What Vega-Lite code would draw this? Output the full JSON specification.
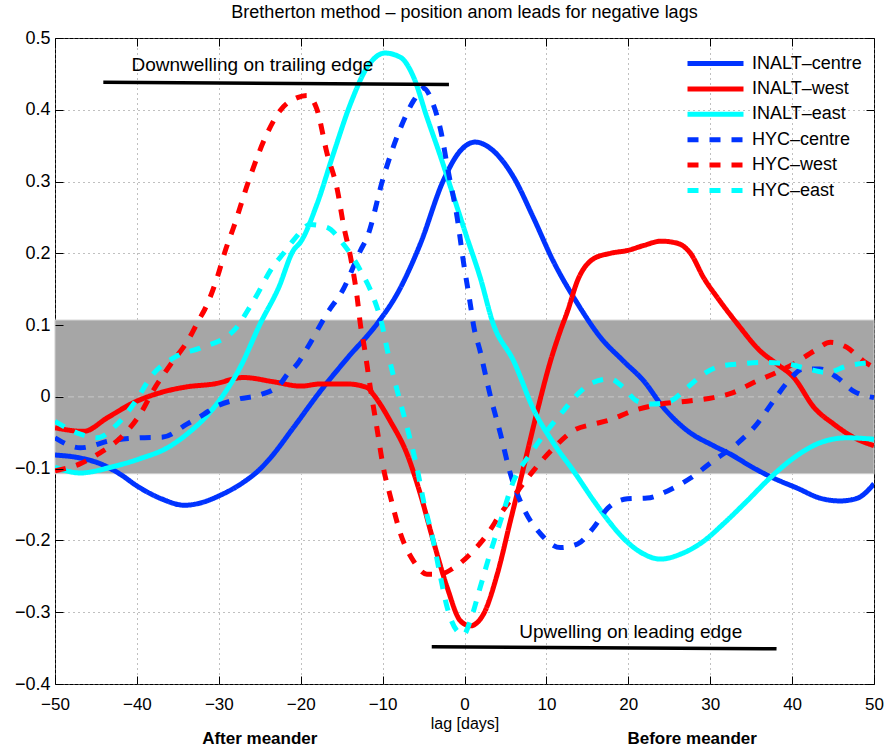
{
  "$schema": "https://vega.github.io/schema/vega-lite/v6.json",
  "width": 819,
  "height": 646,
  "autosize": {"type": "none"},
  "padding": {"left": 55, "top": 38, "right": 17, "bottom": 64},
  "background": "white",
  "title": {"text": "Bretherton method – position anom leads for negative lags", "fontSize": 18, "font": "Liberation Sans", "fontWeight": "normal", "color": "black", "offset": 7},
  "config": {
    "view": {"stroke": "black", "strokeWidth": 1},
    "font": "Liberation Sans",
    "axis": {
      "domain": false,
      "labelColor": "black",
      "tickColor": "black",
      "labelFont": "Liberation Sans",
      "titleFont": "Liberation Sans",
      "titleColor": "black",
      "titleFontWeight": "normal",
      "labelFlush": false
    }
  },
  "datasets": {
    "curves": [
      {"series": "INALT–centre", "lag": -50, "value": -0.081},
      {"series": "INALT–centre", "lag": -47, "value": -0.085},
      {"series": "INALT–centre", "lag": -44.5, "value": -0.093},
      {"series": "INALT–centre", "lag": -42, "value": -0.108},
      {"series": "INALT–centre", "lag": -40, "value": -0.124},
      {"series": "INALT–centre", "lag": -37, "value": -0.142},
      {"series": "INALT–centre", "lag": -34.2, "value": -0.151},
      {"series": "INALT–centre", "lag": -32, "value": -0.147},
      {"series": "INALT–centre", "lag": -30, "value": -0.138},
      {"series": "INALT–centre", "lag": -27, "value": -0.119},
      {"series": "INALT–centre", "lag": -25, "value": -0.101},
      {"series": "INALT–centre", "lag": -23.7, "value": -0.085},
      {"series": "INALT–centre", "lag": -20.9, "value": -0.043},
      {"series": "INALT–centre", "lag": -17.6, "value": 0.008},
      {"series": "INALT–centre", "lag": -14.3, "value": 0.054},
      {"series": "INALT–centre", "lag": -10.6, "value": 0.103},
      {"series": "INALT–centre", "lag": -8.2, "value": 0.144},
      {"series": "INALT–centre", "lag": -5.4, "value": 0.213},
      {"series": "INALT–centre", "lag": -2.6, "value": 0.301},
      {"series": "INALT–centre", "lag": -0.5, "value": 0.343},
      {"series": "INALT–centre", "lag": 1.3, "value": 0.355},
      {"series": "INALT–centre", "lag": 3.5, "value": 0.343},
      {"series": "INALT–centre", "lag": 6.0, "value": 0.306},
      {"series": "INALT–centre", "lag": 8.4, "value": 0.25},
      {"series": "INALT–centre", "lag": 10.8, "value": 0.19},
      {"series": "INALT–centre", "lag": 13.8, "value": 0.13},
      {"series": "INALT–centre", "lag": 16.6, "value": 0.083},
      {"series": "INALT–centre", "lag": 19.4, "value": 0.05},
      {"series": "INALT–centre", "lag": 21.9, "value": 0.022},
      {"series": "INALT–centre", "lag": 24.3, "value": -0.015},
      {"series": "INALT–centre", "lag": 27.2, "value": -0.047},
      {"series": "INALT–centre", "lag": 30.4, "value": -0.068},
      {"series": "INALT–centre", "lag": 32.5, "value": -0.08},
      {"series": "INALT–centre", "lag": 35.3, "value": -0.099},
      {"series": "INALT–centre", "lag": 37.7, "value": -0.113},
      {"series": "INALT–centre", "lag": 40.6, "value": -0.127},
      {"series": "INALT–centre", "lag": 43.4, "value": -0.141},
      {"series": "INALT–centre", "lag": 45.9, "value": -0.145},
      {"series": "INALT–centre", "lag": 48, "value": -0.141},
      {"series": "INALT–centre", "lag": 50, "value": -0.121},

      {"series": "INALT–west", "lag": -50, "value": -0.043},
      {"series": "INALT–west", "lag": -46.5, "value": -0.048},
      {"series": "INALT–west", "lag": -43.6, "value": -0.029},
      {"series": "INALT–west", "lag": -40.4, "value": -0.008},
      {"series": "INALT–west", "lag": -37.1, "value": 0.006},
      {"series": "INALT–west", "lag": -33.9, "value": 0.014},
      {"series": "INALT–west", "lag": -30.6, "value": 0.018},
      {"series": "INALT–west", "lag": -27, "value": 0.027},
      {"series": "INALT–west", "lag": -23.3, "value": 0.021},
      {"series": "INALT–west", "lag": -20, "value": 0.015},
      {"series": "INALT–west", "lag": -17.6, "value": 0.018},
      {"series": "INALT–west", "lag": -14.3, "value": 0.018},
      {"series": "INALT–west", "lag": -11.9, "value": 0.013},
      {"series": "INALT–west", "lag": -11.1, "value": 0.003},
      {"series": "INALT–west", "lag": -10.3, "value": -0.01},
      {"series": "INALT–west", "lag": -9.1, "value": -0.033},
      {"series": "INALT–west", "lag": -7, "value": -0.08},
      {"series": "INALT–west", "lag": -5.4, "value": -0.135},
      {"series": "INALT–west", "lag": -3.8, "value": -0.201},
      {"series": "INALT–west", "lag": -2.1, "value": -0.266},
      {"series": "INALT–west", "lag": -0.5, "value": -0.312},
      {"series": "INALT–west", "lag": 0.7, "value": -0.319},
      {"series": "INALT–west", "lag": 2.3, "value": -0.303},
      {"series": "INALT–west", "lag": 4.0, "value": -0.247},
      {"series": "INALT–west", "lag": 5.6, "value": -0.173},
      {"series": "INALT–west", "lag": 7.2, "value": -0.099},
      {"series": "INALT–west", "lag": 8.9, "value": -0.019},
      {"series": "INALT–west", "lag": 10.5, "value": 0.05},
      {"series": "INALT–west", "lag": 11.7, "value": 0.092},
      {"series": "INALT–west", "lag": 12.6, "value": 0.12},
      {"series": "INALT–west", "lag": 13.8, "value": 0.162},
      {"series": "INALT–west", "lag": 15.7, "value": 0.192},
      {"series": "INALT–west", "lag": 17.8, "value": 0.2},
      {"series": "INALT–west", "lag": 19.9, "value": 0.204},
      {"series": "INALT–west", "lag": 21.9, "value": 0.211},
      {"series": "INALT–west", "lag": 24, "value": 0.217},
      {"series": "INALT–west", "lag": 26, "value": 0.214},
      {"series": "INALT–west", "lag": 27.6, "value": 0.2},
      {"series": "INALT–west", "lag": 29.2, "value": 0.166},
      {"series": "INALT–west", "lag": 30.9, "value": 0.138},
      {"series": "INALT–west", "lag": 33.3, "value": 0.102},
      {"series": "INALT–west", "lag": 36.1, "value": 0.064},
      {"series": "INALT–west", "lag": 38, "value": 0.047},
      {"series": "INALT–west", "lag": 40.2, "value": 0.027},
      {"series": "INALT–west", "lag": 42.7, "value": -0.015},
      {"series": "INALT–west", "lag": 45.1, "value": -0.038},
      {"series": "INALT–west", "lag": 47.6, "value": -0.057},
      {"series": "INALT–west", "lag": 50, "value": -0.068},

      {"series": "INALT–east", "lag": -50, "value": -0.098},
      {"series": "INALT–east", "lag": -46.9, "value": -0.106},
      {"series": "INALT–east", "lag": -43.2, "value": -0.098},
      {"series": "INALT–east", "lag": -39.6, "value": -0.086},
      {"series": "INALT–east", "lag": -36.3, "value": -0.071},
      {"series": "INALT–east", "lag": -33.9, "value": -0.052},
      {"series": "INALT–east", "lag": -30.6, "value": -0.015},
      {"series": "INALT–east", "lag": -27.4, "value": 0.041},
      {"series": "INALT–east", "lag": -24.9, "value": 0.103},
      {"series": "INALT–east", "lag": -22.7, "value": 0.152},
      {"series": "INALT–east", "lag": -20.9, "value": 0.204},
      {"series": "INALT–east", "lag": -20, "value": 0.216},
      {"series": "INALT–east", "lag": -18, "value": 0.269},
      {"series": "INALT–east", "lag": -16, "value": 0.339},
      {"series": "INALT–east", "lag": -13.9, "value": 0.409},
      {"series": "INALT–east", "lag": -11.9, "value": 0.459},
      {"series": "INALT–east", "lag": -9.7, "value": 0.479},
      {"series": "INALT–east", "lag": -7.8, "value": 0.473},
      {"series": "INALT–east", "lag": -6.2, "value": 0.445},
      {"series": "INALT–east", "lag": -4.6, "value": 0.39},
      {"series": "INALT–east", "lag": -2.9, "value": 0.334},
      {"series": "INALT–east", "lag": -1.3, "value": 0.278},
      {"series": "INALT–east", "lag": 0.3, "value": 0.222},
      {"series": "INALT–east", "lag": 1.9, "value": 0.167},
      {"series": "INALT–east", "lag": 3.5, "value": 0.102},
      {"series": "INALT–east", "lag": 6.0, "value": 0.05},
      {"series": "INALT–east", "lag": 8.5, "value": -0.019},
      {"series": "INALT–east", "lag": 10.9, "value": -0.065},
      {"series": "INALT–east", "lag": 13.3, "value": -0.103},
      {"series": "INALT–east", "lag": 15.8, "value": -0.145},
      {"series": "INALT–east", "lag": 17.4, "value": -0.17},
      {"series": "INALT–east", "lag": 19.4, "value": -0.197},
      {"series": "INALT–east", "lag": 21.9, "value": -0.219},
      {"series": "INALT–east", "lag": 23.9, "value": -0.226},
      {"series": "INALT–east", "lag": 26.4, "value": -0.219},
      {"series": "INALT–east", "lag": 29.2, "value": -0.201},
      {"series": "INALT–east", "lag": 31.6, "value": -0.177},
      {"series": "INALT–east", "lag": 34.5, "value": -0.145},
      {"series": "INALT–east", "lag": 37.3, "value": -0.113},
      {"series": "INALT–east", "lag": 40.2, "value": -0.085},
      {"series": "INALT–east", "lag": 43.4, "value": -0.064},
      {"series": "INALT–east", "lag": 46.7, "value": -0.057},
      {"series": "INALT–east", "lag": 50, "value": -0.059},

      {"series": "HYC–centre", "lag": -50, "value": -0.057},
      {"series": "HYC–centre", "lag": -46.9, "value": -0.071},
      {"series": "HYC–centre", "lag": -43.2, "value": -0.061},
      {"series": "HYC–centre", "lag": -39.6, "value": -0.057},
      {"series": "HYC–centre", "lag": -36.8, "value": -0.056},
      {"series": "HYC–centre", "lag": -33.9, "value": -0.038},
      {"series": "HYC–centre", "lag": -31.8, "value": -0.024},
      {"series": "HYC–centre", "lag": -30.6, "value": -0.015},
      {"series": "HYC–centre", "lag": -27.6, "value": -0.003},
      {"series": "HYC–centre", "lag": -24.9, "value": 0.003},
      {"series": "HYC–centre", "lag": -22.5, "value": 0.018},
      {"series": "HYC–centre", "lag": -21.6, "value": 0.032},
      {"series": "HYC–centre", "lag": -20.4, "value": 0.046},
      {"series": "HYC–centre", "lag": -19.2, "value": 0.068},
      {"series": "HYC–centre", "lag": -16.8, "value": 0.116},
      {"series": "HYC–centre", "lag": -14.8, "value": 0.15},
      {"series": "HYC–centre", "lag": -12.7, "value": 0.204},
      {"series": "HYC–centre", "lag": -11.9, "value": 0.222},
      {"series": "HYC–centre", "lag": -9.9, "value": 0.306},
      {"series": "HYC–centre", "lag": -7.8, "value": 0.375},
      {"series": "HYC–centre", "lag": -6.2, "value": 0.413},
      {"series": "HYC–centre", "lag": -5, "value": 0.43},
      {"series": "HYC–centre", "lag": -3.9, "value": 0.41},
      {"series": "HYC–centre", "lag": -2.9, "value": 0.371},
      {"series": "HYC–centre", "lag": -2, "value": 0.315},
      {"series": "HYC–centre", "lag": -0.9, "value": 0.25},
      {"series": "HYC–centre", "lag": -0.1, "value": 0.186},
      {"series": "HYC–centre", "lag": 0.7, "value": 0.13},
      {"series": "HYC–centre", "lag": 1.1, "value": 0.1},
      {"series": "HYC–centre", "lag": 1.9, "value": 0.064},
      {"series": "HYC–centre", "lag": 3.1, "value": 0.004},
      {"series": "HYC–centre", "lag": 4.4, "value": -0.052},
      {"series": "HYC–centre", "lag": 5.6, "value": -0.107},
      {"series": "HYC–centre", "lag": 7.2, "value": -0.155},
      {"series": "HYC–centre", "lag": 9.3, "value": -0.191},
      {"series": "HYC–centre", "lag": 11.7, "value": -0.21},
      {"series": "HYC–centre", "lag": 13.8, "value": -0.205},
      {"series": "HYC–centre", "lag": 15.7, "value": -0.183},
      {"series": "HYC–centre", "lag": 17.5, "value": -0.155},
      {"series": "HYC–centre", "lag": 19.9, "value": -0.142},
      {"series": "HYC–centre", "lag": 22.3, "value": -0.141},
      {"series": "HYC–centre", "lag": 24.8, "value": -0.131},
      {"series": "HYC–centre", "lag": 27.6, "value": -0.113},
      {"series": "HYC–centre", "lag": 30.4, "value": -0.089},
      {"series": "HYC–centre", "lag": 33.3, "value": -0.065},
      {"series": "HYC–centre", "lag": 35.7, "value": -0.038},
      {"series": "HYC–centre", "lag": 37.7, "value": -0.006},
      {"series": "HYC–centre", "lag": 39.4, "value": 0.02},
      {"series": "HYC–centre", "lag": 41.4, "value": 0.039},
      {"series": "HYC–centre", "lag": 43.4, "value": 0.039},
      {"series": "HYC–centre", "lag": 45.5, "value": 0.027},
      {"series": "HYC–centre", "lag": 47.5, "value": 0.008},
      {"series": "HYC–centre", "lag": 50, "value": -0.001},

      {"series": "HYC–west", "lag": -50, "value": -0.103},
      {"series": "HYC–west", "lag": -46.9, "value": -0.093},
      {"series": "HYC–west", "lag": -44.5, "value": -0.078},
      {"series": "HYC–west", "lag": -42, "value": -0.057},
      {"series": "HYC–west", "lag": -39.6, "value": -0.024},
      {"series": "HYC–west", "lag": -38, "value": 0.009},
      {"series": "HYC–west", "lag": -35.9, "value": 0.045},
      {"series": "HYC–west", "lag": -33.7, "value": 0.08},
      {"series": "HYC–west", "lag": -32.3, "value": 0.11},
      {"series": "HYC–west", "lag": -31.8, "value": 0.12},
      {"series": "HYC–west", "lag": -30.2, "value": 0.166},
      {"series": "HYC–west", "lag": -29.2, "value": 0.204},
      {"series": "HYC–west", "lag": -28.2, "value": 0.236},
      {"series": "HYC–west", "lag": -26.2, "value": 0.306},
      {"series": "HYC–west", "lag": -24.1, "value": 0.367},
      {"series": "HYC–west", "lag": -22.5, "value": 0.399},
      {"series": "HYC–west", "lag": -20.4, "value": 0.417},
      {"series": "HYC–west", "lag": -19.2, "value": 0.42},
      {"series": "HYC–west", "lag": -18, "value": 0.4},
      {"series": "HYC–west", "lag": -16.8, "value": 0.34},
      {"series": "HYC–west", "lag": -15.5, "value": 0.287},
      {"series": "HYC–west", "lag": -14.8, "value": 0.241},
      {"series": "HYC–west", "lag": -13.9, "value": 0.194},
      {"series": "HYC–west", "lag": -13.1, "value": 0.138},
      {"series": "HYC–west", "lag": -12.7, "value": 0.1},
      {"series": "HYC–west", "lag": -12.3, "value": 0.074},
      {"series": "HYC–west", "lag": -11.5, "value": 0.013},
      {"series": "HYC–west", "lag": -10.7, "value": -0.043},
      {"series": "HYC–west", "lag": -9.9, "value": -0.099},
      {"series": "HYC–west", "lag": -9, "value": -0.141},
      {"series": "HYC–west", "lag": -7.8, "value": -0.191},
      {"series": "HYC–west", "lag": -6.2, "value": -0.229},
      {"series": "HYC–west", "lag": -4.6, "value": -0.247},
      {"series": "HYC–west", "lag": -3, "value": -0.247},
      {"series": "HYC–west", "lag": -1.3, "value": -0.238},
      {"series": "HYC–west", "lag": 0.7, "value": -0.219},
      {"series": "HYC–west", "lag": 2.8, "value": -0.191},
      {"series": "HYC–west", "lag": 4.4, "value": -0.163},
      {"series": "HYC–west", "lag": 6.5, "value": -0.131},
      {"series": "HYC–west", "lag": 8.4, "value": -0.103},
      {"series": "HYC–west", "lag": 10.9, "value": -0.071},
      {"series": "HYC–west", "lag": 13.3, "value": -0.047},
      {"series": "HYC–west", "lag": 15.7, "value": -0.038},
      {"series": "HYC–west", "lag": 17.5, "value": -0.033},
      {"series": "HYC–west", "lag": 20.7, "value": -0.019},
      {"series": "HYC–west", "lag": 24, "value": -0.01},
      {"series": "HYC–west", "lag": 27.2, "value": -0.006},
      {"series": "HYC–west", "lag": 30.4, "value": -0.001},
      {"series": "HYC–west", "lag": 32.8, "value": 0.006},
      {"series": "HYC–west", "lag": 35.3, "value": 0.02},
      {"series": "HYC–west", "lag": 37.7, "value": 0.032},
      {"series": "HYC–west", "lag": 40.2, "value": 0.046},
      {"series": "HYC–west", "lag": 42.7, "value": 0.064},
      {"series": "HYC–west", "lag": 44.7, "value": 0.076},
      {"series": "HYC–west", "lag": 46.7, "value": 0.069},
      {"series": "HYC–west", "lag": 48.7, "value": 0.05},
      {"series": "HYC–west", "lag": 50, "value": 0.041},

      {"series": "HYC–east", "lag": -50, "value": -0.034},
      {"series": "HYC–east", "lag": -46.9, "value": -0.052},
      {"series": "HYC–east", "lag": -44.9, "value": -0.057},
      {"series": "HYC–east", "lag": -42.4, "value": -0.038},
      {"series": "HYC–east", "lag": -40.4, "value": -0.01},
      {"series": "HYC–east", "lag": -38, "value": 0.032},
      {"series": "HYC–east", "lag": -35.1, "value": 0.057},
      {"series": "HYC–east", "lag": -32.3, "value": 0.068},
      {"series": "HYC–east", "lag": -28.2, "value": 0.092},
      {"series": "HYC–east", "lag": -25.8, "value": 0.133},
      {"series": "HYC–east", "lag": -23.3, "value": 0.183},
      {"series": "HYC–east", "lag": -22.1, "value": 0.2},
      {"series": "HYC–east", "lag": -20.9, "value": 0.218},
      {"series": "HYC–east", "lag": -18.8, "value": 0.24},
      {"series": "HYC–east", "lag": -16.8, "value": 0.236},
      {"series": "HYC–east", "lag": -14.8, "value": 0.213},
      {"series": "HYC–east", "lag": -12.7, "value": 0.176},
      {"series": "HYC–east", "lag": -11.1, "value": 0.138},
      {"series": "HYC–east", "lag": -10.1, "value": 0.102},
      {"series": "HYC–east", "lag": -9.4, "value": 0.064},
      {"series": "HYC–east", "lag": -8.2, "value": 0.008},
      {"series": "HYC–east", "lag": -7, "value": -0.043},
      {"series": "HYC–east", "lag": -5.8, "value": -0.099},
      {"series": "HYC–east", "lag": -5, "value": -0.145},
      {"series": "HYC–east", "lag": -3.8, "value": -0.201},
      {"series": "HYC–east", "lag": -3, "value": -0.247},
      {"series": "HYC–east", "lag": -2.1, "value": -0.294},
      {"series": "HYC–east", "lag": -0.9, "value": -0.326},
      {"series": "HYC–east", "lag": -0.1, "value": -0.331},
      {"series": "HYC–east", "lag": 0.7, "value": -0.312},
      {"series": "HYC–east", "lag": 1.9, "value": -0.266},
      {"series": "HYC–east", "lag": 3.1, "value": -0.219},
      {"series": "HYC–east", "lag": 4.4, "value": -0.173},
      {"series": "HYC–east", "lag": 6, "value": -0.117},
      {"series": "HYC–east", "lag": 8, "value": -0.08},
      {"series": "HYC–east", "lag": 10.1, "value": -0.047},
      {"series": "HYC–east", "lag": 12.1, "value": -0.019},
      {"series": "HYC–east", "lag": 14.2, "value": 0.008},
      {"series": "HYC–east", "lag": 15.7, "value": 0.02},
      {"series": "HYC–east", "lag": 17.8, "value": 0.025},
      {"series": "HYC–east", "lag": 19.4, "value": 0.013},
      {"series": "HYC–east", "lag": 21.1, "value": -0.006},
      {"series": "HYC–east", "lag": 23, "value": -0.01},
      {"series": "HYC–east", "lag": 25.1, "value": -0.006},
      {"series": "HYC–east", "lag": 27.2, "value": 0.013},
      {"series": "HYC–east", "lag": 29.2, "value": 0.032},
      {"series": "HYC–east", "lag": 31.3, "value": 0.043},
      {"series": "HYC–east", "lag": 33.7, "value": 0.046},
      {"series": "HYC–east", "lag": 36.5, "value": 0.048},
      {"series": "HYC–east", "lag": 39.4, "value": 0.046},
      {"series": "HYC–east", "lag": 41.9, "value": 0.039},
      {"series": "HYC–east", "lag": 44.3, "value": 0.034},
      {"series": "HYC–east", "lag": 46.7, "value": 0.043},
      {"series": "HYC–east", "lag": 50, "value": 0.048}
    ]
  },
  "resolve": {"axis": {"x": "independent", "y": "independent"}},
  "layer": [
    {
      "data": {"values": [{"x0": -50, "x1": 50, "lo": -0.107, "hi": 0.107}]},
      "mark": {"type": "rect", "color": "#a6a6a6", "stroke": "#cfcfcf", "strokeWidth": 1},
      "encoding": {
        "x": {"field": "x0", "type": "quantitative", "scale": {"domain": [-50, 50], "nice": false},
          "axis": {"orient": "top", "values": [-50,-40,-30,-20,-10,0,10,20,30,40,50], "labels": false, "title": null, "tickSize": -8, "grid": true, "gridDash": [1, 4], "gridColor": "#808080", "gridOpacity": 1, "zindex": 0}},
        "x2": {"field": "x1"},
        "y": {"field": "lo", "type": "quantitative", "scale": {"domain": [-0.4, 0.5], "nice": false, "zero": false},
          "axis": {"orient": "right", "values": [-0.4,-0.3,-0.2,-0.1,0,0.1,0.2,0.3,0.4,0.5], "labels": false, "title": null, "tickSize": -8, "grid": true, "gridDash": [1, 4], "gridColor": "#808080", "gridOpacity": 1, "zindex": 0}},
        "y2": {"field": "hi"}
      }
    },
    {
      "data": {"values": [{"z": 0}]},
      "mark": {"type": "rule", "color": "#c8c8c8", "strokeWidth": 1, "strokeDash": [6, 4]},
      "encoding": {"y": {"field": "z", "type": "quantitative", "axis": null}}
    },
    {
      "data": {"name": "curves"},
      "mark": {"type": "line", "strokeWidth": 5, "interpolate": "monotone", "clip": true},
      "encoding": {
        "x": {"field": "lag", "type": "quantitative",
          "axis": {"orient": "bottom", "values": [-50,-40,-30,-20,-10,0,10,20,30,40,50], "grid": false, "tickSize": -8, "labelFontSize": 17, "labelPadding": 20, "title": "lag [days]", "titleFontSize": 16, "titlePadding": 3, "zindex": 1}},
        "y": {"field": "value", "type": "quantitative",
          "axis": {"orient": "left", "values": [-0.4,-0.3,-0.2,-0.1,0,0.1,0.2,0.3,0.4,0.5], "grid": false, "tickSize": -8, "labelFontSize": 18, "labelPadding": 13, "title": null, "zindex": 1,
            "labelExpr": "datum.value == 0 ? '0' : format(datum.value, '.1f')"}},
        "color": {"field": "series", "type": "nominal",
          "scale": {"domain": ["INALT–centre", "INALT–west", "INALT–east", "HYC–centre", "HYC–west", "HYC–east"],
                    "range": ["#0033ff", "#ff0000", "#00ffff", "#0033ff", "#ff0000", "#00ffff"]},
          "legend": {"title": null, "orient": "none", "legendX": 648, "legendY": 13, "symbolType": "M-2.8,0H2.8", "symbolSize": 400, "symbolStrokeWidth": 5, "labelFontSize": 18, "labelFont": "Liberation Sans", "labelColor": "black", "rowPadding": 2.4, "labelOffset": 24, "padding": 0}},
        "strokeDash": {"field": "series", "type": "nominal",
          "scale": {"domain": ["INALT–centre", "INALT–west", "INALT–east", "HYC–centre", "HYC–west", "HYC–east"],
                    "range": [[1, 0], [1, 0], [1, 0], [11, 11], [11, 11], [11, 11]]},
          "legend": {"title": null}}
      }
    },
    {
      "data": {"values": [
        {"seg": "down", "lag": -44.1, "value": 0.4385},
        {"seg": "down", "lag": -1.9, "value": 0.4353},
        {"seg": "up", "lag": -4.0, "value": -0.348},
        {"seg": "up", "lag": 38.1, "value": -0.351}
      ]},
      "mark": {"type": "line", "color": "black", "strokeWidth": 3.5},
      "encoding": {
        "x": {"field": "lag", "type": "quantitative", "axis": null},
        "y": {"field": "value", "type": "quantitative", "axis": null},
        "detail": {"field": "seg"}
      }
    },
    {
      "data": {"values": [
        {"label": "Downwelling on trailing edge", "lag": -25.9, "value": 0.462},
        {"label": "Upwelling on leading edge", "lag": 20.3, "value": -0.328}
      ]},
      "mark": {"type": "text", "fontSize": 19, "font": "Liberation Sans", "color": "black", "align": "center", "baseline": "middle"},
      "encoding": {
        "x": {"field": "lag", "type": "quantitative", "axis": null},
        "y": {"field": "value", "type": "quantitative", "axis": null},
        "text": {"field": "label"}
      }
    },
    {
      "data": {"values": [
        {"label": "After meander", "lag": -25.0, "value": -0.476},
        {"label": "Before meander", "lag": 27.8, "value": -0.476}
      ]},
      "mark": {"type": "text", "fontSize": 17, "fontWeight": "bold", "font": "Liberation Sans", "color": "black", "align": "center", "baseline": "middle", "clip": false},
      "encoding": {
        "x": {"field": "lag", "type": "quantitative", "axis": null},
        "y": {"field": "value", "type": "quantitative", "axis": null},
        "text": {"field": "label"}
      }
    }
  ]
}
